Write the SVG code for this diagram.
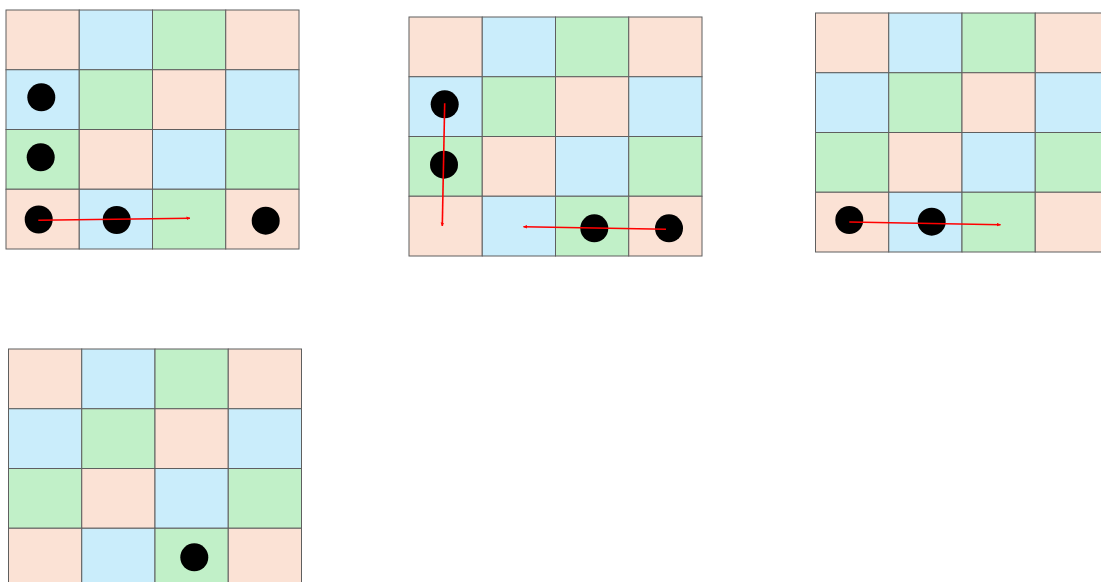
<svg xmlns="http://www.w3.org/2000/svg" xmlns:xlink="http://www.w3.org/1999/xlink" width="1101" height="582" viewBox="0 0 1101 582">
<style>
.p{fill:#FBE2D5}
.b{fill:#CAEDFB}
.g{fill:#C1F0C8}
.cell{stroke:#5f5f5f;stroke-width:1}
.dot{fill:#000}
.arr{stroke:#FF0000;stroke-width:1.6;fill:none;marker-end:url(#ah)}
</style>
<defs>
<marker id="ah" viewBox="0 0 8 8" refX="7" refY="4" markerWidth="4" markerHeight="4" orient="auto" markerUnits="userSpaceOnUse">
<path d="M0,0.5 L8,4 L0,7.5 z" fill="#FF0000"/>
</marker>
<g id="grid">
<rect class="cell p" x="0" y="0" width="73.25" height="59.75"/>
<rect class="cell b" x="73.25" y="0" width="73.25" height="59.75"/>
<rect class="cell g" x="146.5" y="0" width="73.25" height="59.75"/>
<rect class="cell p" x="219.75" y="0" width="73.25" height="59.75"/>
<rect class="cell b" x="0" y="59.75" width="73.25" height="59.75"/>
<rect class="cell g" x="73.25" y="59.75" width="73.25" height="59.75"/>
<rect class="cell p" x="146.5" y="59.75" width="73.25" height="59.75"/>
<rect class="cell b" x="219.75" y="59.75" width="73.25" height="59.75"/>
<rect class="cell g" x="0" y="119.5" width="73.25" height="59.75"/>
<rect class="cell p" x="73.25" y="119.5" width="73.25" height="59.75"/>
<rect class="cell b" x="146.5" y="119.5" width="73.25" height="59.75"/>
<rect class="cell g" x="219.75" y="119.5" width="73.25" height="59.75"/>
<rect class="cell p" x="0" y="179.25" width="73.25" height="59.75"/>
<rect class="cell b" x="73.25" y="179.25" width="73.25" height="59.75"/>
<rect class="cell g" x="146.5" y="179.25" width="73.25" height="59.75"/>
<rect class="cell p" x="219.75" y="179.25" width="73.25" height="59.75"/>
</g>
</defs>
<rect x="0" y="0" width="1101" height="582" fill="#FFFFFF"/>
<g id="board1"><use xlink:href="#grid" href="#grid" transform="translate(6,10)"/></g>
<g id="board2"><use xlink:href="#grid" href="#grid" transform="translate(409,17)"/></g>
<g id="board3"><use xlink:href="#grid" href="#grid" transform="translate(815.5,13)"/></g>
<g id="board4"><use xlink:href="#grid" href="#grid" transform="translate(8.5,349)"/></g>
<g id="dots1">
<circle class="dot" cx="41.3" cy="97.3" r="14"/>
<circle class="dot" cx="40.7" cy="157.3" r="14"/>
<circle class="dot" cx="38.7" cy="219.5" r="14"/>
<circle class="dot" cx="116.7" cy="220" r="14"/>
<circle class="dot" cx="265.7" cy="220.7" r="14"/>
</g>
<g id="dots2">
<circle class="dot" cx="444.7" cy="104.3" r="14"/>
<circle class="dot" cx="444" cy="164.7" r="14"/>
<circle class="dot" cx="594.3" cy="228.3" r="14"/>
<circle class="dot" cx="669" cy="228.3" r="14"/>
</g>
<g id="dots3">
<circle class="dot" cx="849.3" cy="220" r="14"/>
<circle class="dot" cx="931.7" cy="221.7" r="14"/>
</g>
<g id="dots4">
<circle class="dot" cx="194.3" cy="557.3" r="14"/>
</g>
<g id="connectors">
<line class="arr" x1="38.3" y1="220.3" x2="190" y2="218.3"/>
<line class="arr" x1="444.7" y1="103.3" x2="442.3" y2="226"/>
<line class="arr" x1="666" y1="229.3" x2="523.5" y2="226.7"/>
<line class="arr" x1="849.3" y1="222" x2="1000.5" y2="224.7"/>
</g>
</svg>
